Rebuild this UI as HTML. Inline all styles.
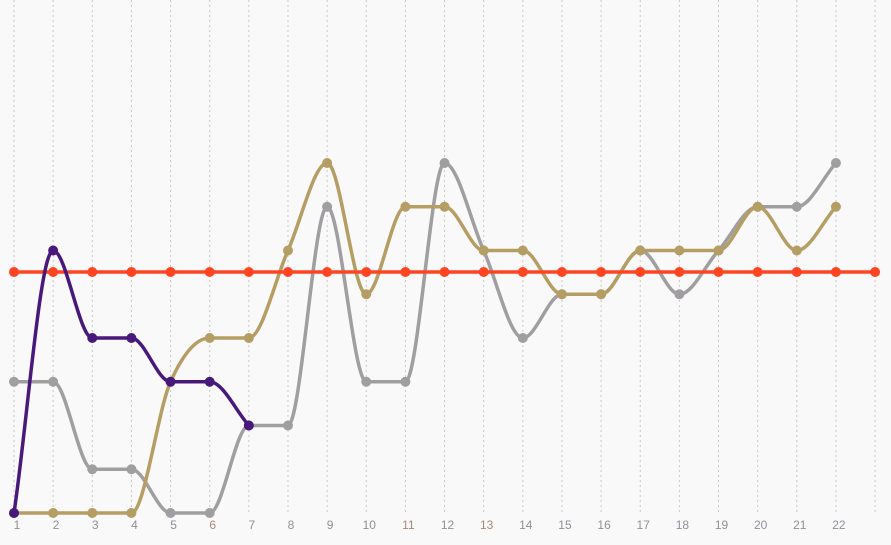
<!DOCTYPE html>
<html><head><meta charset="utf-8"><style>
html,body{margin:0;padding:0;background:#f9f9f9;}
svg{display:block;font-family:"Liberation Sans",sans-serif;}
</style></head><body>
<svg id="c" width="891" height="545" xmlns="http://www.w3.org/2000/svg"></svg>
<script>
const svg=document.getElementById('c');
const NS='http://www.w3.org/2000/svg';
const X=i=>14+i*39.14, Y=k=>513-43.75*k;
function el(t,a,txt){const e=document.createElementNS(NS,t);for(const k in a)e.setAttribute(k,a[k]);if(txt!=null)e.textContent=txt;svg.appendChild(e);return e;}
for(let i=0;i<23;i++){el('line',{x1:X(i),x2:X(i),y1:0,y2:512,stroke:'#c8c8c8','stroke-dasharray':'2,3','stroke-width':1});}
for(let i=0;i<22;i++){el('text',{x:X(i)+3,y:529,'text-anchor':'middle','font-size':12,fill:(i==5||i==10||i==12)?'#a88a7a':'#8f8f99'},String(i+1));}
function mono(pts){
 const n=pts.length;if(n<2)return '';
 const d=[],m=[];
 for(let i=0;i<n-1;i++)d.push((pts[i+1][1]-pts[i][1])/(pts[i+1][0]-pts[i][0]));
 m[0]=d[0];m[n-1]=d[n-2];
 for(let i=1;i<n-1;i++){ if(d[i-1]*d[i]<=0)m[i]=0; else {m[i]=(d[i-1]+d[i])/2;}}
 for(let i=0;i<n-1;i++){ if(d[i]==0){m[i]=0;m[i+1]=0;continue;} const a=m[i]/d[i],b=m[i+1]/d[i],s=a*a+b*b; if(s>9){const t=3/Math.sqrt(s);m[i]=t*a*d[i];m[i+1]=t*b*d[i];}}
 let p='M'+pts[0][0]+','+pts[0][1];
 for(let i=0;i<n-1;i++){const h=(pts[i+1][0]-pts[i][0])/3;
  p+=' C'+(pts[i][0]+h)+','+(pts[i][1]+m[i]*h)+' '+(pts[i+1][0]-h)+','+(pts[i+1][1]-m[i+1]*h)+' '+pts[i+1][0]+','+pts[i+1][1];}
 return p;}
function series(vals,col,yfn){const pts=vals.map((v,i)=>[X(i),yfn?yfn(v):Y(v)]);
 el('path',{d:mono(pts),fill:'none',stroke:col,'stroke-width':3.5});
 pts.forEach(p=>el('circle',{cx:p[0],cy:p[1],r:5,fill:col}));}
series([3,3,1,1,0,0,2,2,7,3,3,8,6,4,5,5,6,5,6,7,7,8],'#a09ea0');
series([0,0,0,0,3,4,4,6,8,5,7,7,6,6,5,5,6,6,6,7,6,7],'#b59e64');
series(new Array(23).fill(272),'#ff4422',v=>v);
series([0,6,4,4,3,3,2],'#48197a');
</script>
</body></html>
